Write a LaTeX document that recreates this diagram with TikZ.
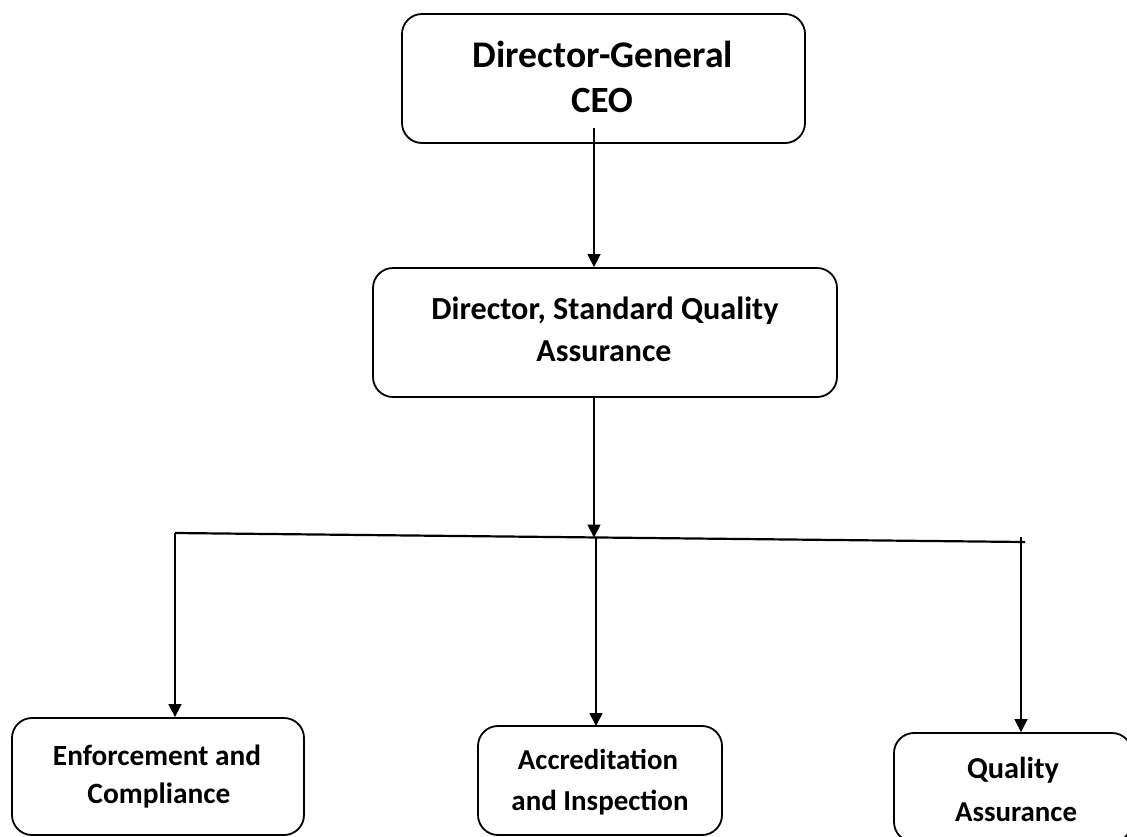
\documentclass[tikz,border=0pt]{standalone}
\usepackage{fontspec}
\setmainfont{Carlito}
\usetikzlibrary{arrows.meta}
\begin{document}
\begin{tikzpicture}[x=1pt,y=-1pt,
  box/.style={draw,line width=1.8pt,rounded corners=20pt,inner sep=0pt},
  lbl/.style={anchor=base,inner sep=0pt,font=\bfseries},
  arr/.style={line width=1.6pt,-{Triangle[length=13pt,width=13pt]}},
  link/.style={line width=2.2pt}]
\useasboundingbox (0,0) rectangle (1127,836);
\begin{scope}
\clip (0,0) rectangle (1127,836);
% boxes
\node[box,minimum width=403pt,minimum height=129pt] (dg) at (603.5,78.5) {};
\node[box,minimum width=464pt,minimum height=129pt] (dir) at (605,332.5) {};
\node[box,minimum width=292pt,minimum height=117pt] (enf) at (158,776.5) {};
\node[box,minimum width=244pt,minimum height=109pt] (acc) at (600,780.5) {};
\node[box,minimum width=238pt,minimum height=109pt] (qa) at (1013,787.5) {};
\end{scope}
% labels, one node per line
\node[lbl] (dg1) at (603,67) {\resizebox{260pt}{!}{Director-General}};
\node[lbl] (dg2) at (602,112) {\resizebox{62pt}{!}{CEO}};
\node[lbl] (dir1) at (605,319) {\resizebox{347pt}{!}{Director, Standard Quality}};
\node[lbl] (dir2) at (604,361) {\resizebox{135pt}{!}{Assurance}};
\node[lbl] (enf1) at (157,765) {\resizebox{208pt}{!}{Enforcement and}};
\node[lbl] (enf2) at (159,803) {\resizebox{143pt}{!}{Compliance}};
\node[lbl] (acc1) at (598,769) {\resizebox{160pt}{!}{Accreditation}};
\node[lbl] (acc2) at (600,810) {\resizebox{177pt}{!}{and Inspection}};
\node[lbl] (qa1) at (1013,778) {\resizebox{92pt}{!}{Quality}};
\node[lbl] (qa2) at (1016,821) {\resizebox{122pt}{!}{Assurance}};
% connectors
\coordinate (s1) at (594,128);
\coordinate (hub) at (594,537.5);
\coordinate (barL) at (175,533);
\coordinate (barR) at (1025,542);
\coordinate (qtop) at (1021,537);
\draw[arr] (s1) -- (s1 |- dir.north);
\draw[arr] (s1 |- dir.south) -- (hub);
\draw[link] (barL) -- (barR);
\draw[arr] (barL) -- (barL |- enf.north);
\draw[arr] (596,537.5) -- (596,726);
\draw[arr] (qtop) -- (qtop |- qa.north);
\end{tikzpicture}
\end{document}
